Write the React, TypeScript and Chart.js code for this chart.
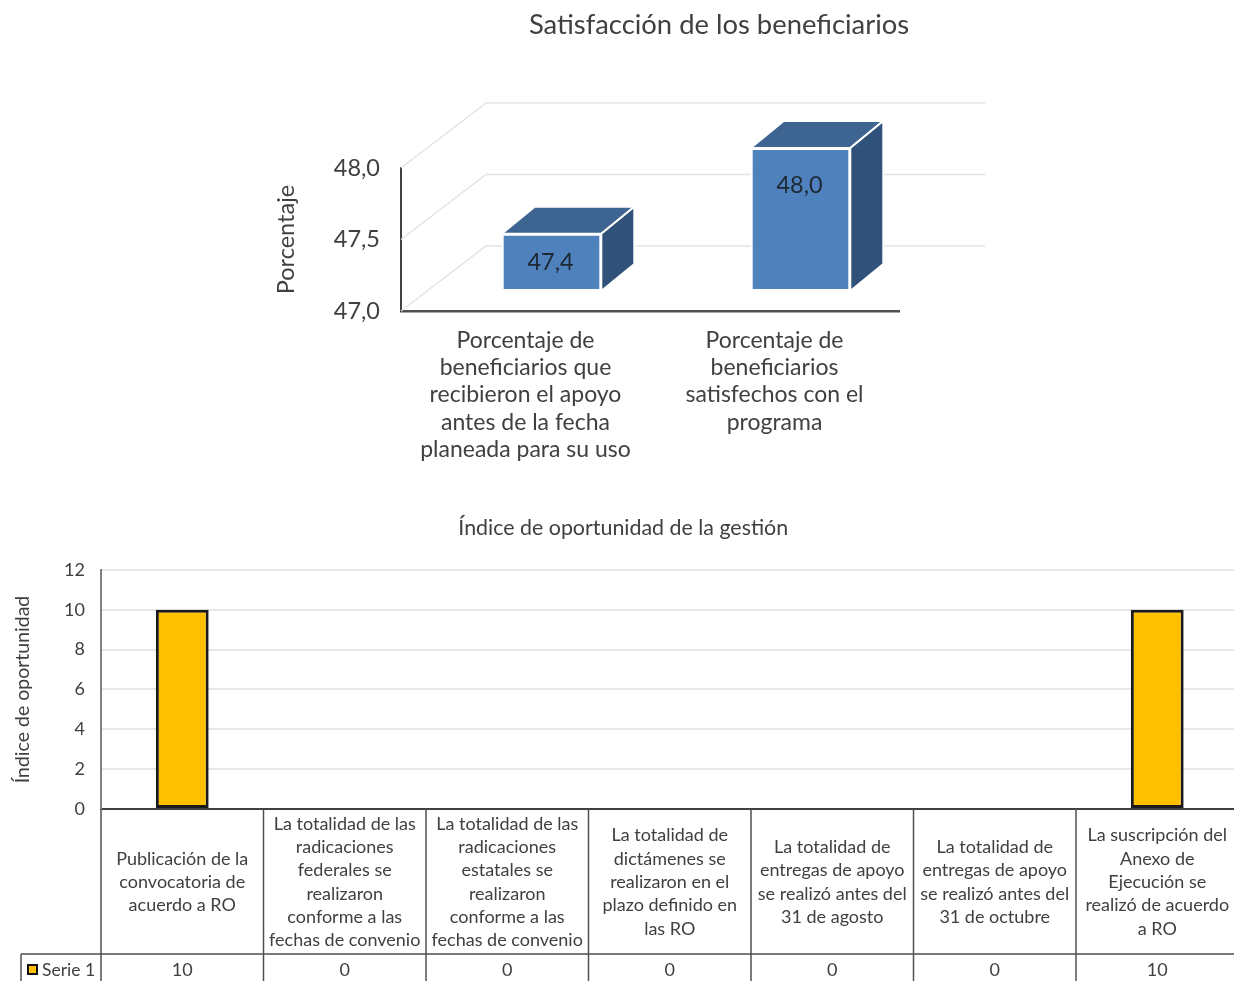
import React, { useEffect, useRef } from "react";
import { Chart, registerables } from "chart.js";

Chart.register(...registerables);

const FONT = "Lato";
const TEXT = "#404040";

const satisfactionLabels = [
  ["Porcentaje de", "beneficiarios que", "recibieron el apoyo", "antes de la fecha", "planeada para su uso"],
  ["Porcentaje de", "beneficiarios", "satisfechos con el", "programa"],
];
const satisfactionValues = [47.4, 48.0];
const satisfactionTicks = { min: 47, max: 48, step: 0.5 };

const opportunityLabels = [
  ["Publicación de la", "convocatoria de", "acuerdo a RO"],
  ["La totalidad de las", "radicaciones", "federales se", "realizaron", "conforme a las", "fechas de convenio"],
  ["La totalidad de las", "radicaciones", "estatales se", "realizaron", "conforme a las", "fechas de convenio"],
  ["La totalidad de", "dictámenes se", "realizaron en el", "plazo definido en", "las RO"],
  ["La totalidad de", "entregas de apoyo", "se realizó antes del", "31 de agosto"],
  ["La totalidad de", "entregas de apoyo", "se realizó antes del", "31 de octubre"],
  ["La suscripción del", "Anexo de", "Ejecución se", "realizó de acuerdo", "a RO"],
];
const serie1Values = [10, 0, 0, 0, 0, 0, 10];
const serieName = "Serie 1";

const comma = (v: number) => v.toFixed(1).replace(".", ",");

// 3D look: back wall, shifted bars with top and side faces
const WALL = { dx: 85, dy: 65 };
const BAR_SHIFT = { dx: 26, dy: 20 };
const DEPTH = { dx: 33, dy: 27 };

const fake3d = {
  id: "fake3d",
  beforeDatasetsDraw(chart: any) {
    const { ctx, chartArea: a, scales } = chart;
    ctx.save();
    ctx.strokeStyle = "#e3e3e3";
    ctx.lineWidth = 1.5;
    scales.y.ticks.forEach((t: any) => {
      const y = scales.y.getPixelForValue(t.value);
      ctx.beginPath();
      ctx.moveTo(a.left, y);
      ctx.lineTo(a.left + WALL.dx, y - WALL.dy);
      ctx.lineTo(a.right + WALL.dx + 1, y - WALL.dy);
      ctx.stroke();
    });
    ctx.restore();
  },
  beforeDatasetDraw(chart: any, args: any) {
    const { ctx } = chart;
    ctx.save();
    ctx.translate(BAR_SHIFT.dx, -BAR_SHIFT.dy);
    args.meta.data.forEach((el: any) => {
      const x0 = el.x - el.width / 2;
      const x1 = el.x + el.width / 2;
      ctx.strokeStyle = "#ffffff";
      ctx.lineWidth = 2;
      ctx.fillStyle = "#3e6591";
      ctx.beginPath();
      ctx.moveTo(x0, el.y);
      ctx.lineTo(x0 + DEPTH.dx, el.y - DEPTH.dy);
      ctx.lineTo(x1 + DEPTH.dx, el.y - DEPTH.dy);
      ctx.lineTo(x1, el.y);
      ctx.closePath();
      ctx.fill();
      ctx.stroke();
      ctx.fillStyle = "#305179";
      ctx.beginPath();
      ctx.moveTo(x1, el.y);
      ctx.lineTo(x1 + DEPTH.dx, el.y - DEPTH.dy);
      ctx.lineTo(x1 + DEPTH.dx, el.base - DEPTH.dy);
      ctx.lineTo(x1, el.base);
      ctx.closePath();
      ctx.fill();
      ctx.stroke();
    });
  },
  afterDatasetDraw(chart: any, args: any) {
    const { ctx } = chart;
    ctx.font = `23.5px ${FONT}`;
    ctx.fillStyle = "#1d2733";
    ctx.textAlign = "center";
    ctx.textBaseline = "middle";
    args.meta.data.forEach((el: any, i: number) => {
      const h = el.base - el.y;
      ctx.fillText(comma(satisfactionValues[i]), el.x - 1, el.y + Math.min(h / 2, 37));
    });
    ctx.restore();
  },
};

// Data table under the axis: column rules, legend key and values
const dataTable = {
  id: "dataTable",
  afterDraw(chart: any) {
    const { ctx, scales, chartArea: a, height } = chart;
    const x = scales.x;
    const half = x.width / x.ticks.length / 2;
    const rowY = a.bottom + 145;
    const left = 21;
    ctx.save();
    ctx.strokeStyle = "#505050";
    ctx.lineWidth = 1.5;
    x.ticks.forEach((_: any, i: number) => {
      const px = x.getPixelForTick(i) + half;
      ctx.beginPath();
      ctx.moveTo(px, a.bottom);
      ctx.lineTo(px, height);
      ctx.stroke();
    });
    ctx.beginPath();
    ctx.moveTo(a.left, a.bottom);
    ctx.lineTo(a.left, height);
    ctx.moveTo(left, rowY);
    ctx.lineTo(a.right, rowY);
    ctx.moveTo(left, rowY);
    ctx.lineTo(left, height);
    ctx.stroke();
    ctx.fillStyle = TEXT;
    ctx.font = `18px ${FONT}`;
    ctx.textBaseline = "middle";
    ctx.textAlign = "center";
    serie1Values.forEach((v, i) => ctx.fillText(String(v), x.getPixelForTick(i), rowY + 16));
    ctx.textAlign = "left";
    ctx.font = `17.5px ${FONT}`;
    ctx.fillText(serieName, left + 21, rowY + 16);
    ctx.fillStyle = chart.data.datasets[0].backgroundColor;
    ctx.strokeStyle = "#111111";
    ctx.lineWidth = 2;
    ctx.fillRect(left + 7, rowY + 11, 9, 9);
    ctx.strokeRect(left + 7, rowY + 11, 9, 9);
    ctx.restore();
  },
};

export default function App() {
  const top = useRef<HTMLCanvasElement>(null);
  const bottom = useRef<HTMLCanvasElement>(null);

  useEffect(() => {
    const c1 = new Chart(top.current!, {
      type: "bar",
      data: {
        labels: satisfactionLabels as any,
        datasets: [
          {
            data: satisfactionValues,
            base: satisfactionTicks.min,
            backgroundColor: "#4f81bd",
            borderColor: "#ffffff",
            borderWidth: 2,
            borderSkipped: false,
            barPercentage: 0.4,
            categoryPercentage: 1,
            clip: false as any,
          },
        ],
      },
      options: {
        responsive: false,
        animation: false,
        layout: { padding: 0 },
        plugins: {
          legend: { display: false },
          tooltip: { enabled: false },
          title: {
            display: true,
            text: "Satisfacción de los beneficiarios",
            color: TEXT,
            font: { family: FONT, size: 27.4, weight: "normal" },
            padding: { top: 9, bottom: 126.1 },
          },
        },
        scales: {
          x: {
            grid: { display: false },
            border: { color: "#505050", width: 2.5 },
            ticks: {
              color: TEXT,
              font: { family: FONT, size: 23, lineHeight: 1.183 },
              padding: 8,
              autoSkip: false,
              maxRotation: 0,
              minRotation: 0,
            },
            afterFit: (s: any) => { s.height = 169; },
          },
          y: {
            min: satisfactionTicks.min,
            max: satisfactionTicks.max,
            grid: { display: false, drawTicks: false },
            border: { color: "#404040", width: 2 },
            ticks: {
              stepSize: satisfactionTicks.step,
              color: TEXT,
              font: { family: FONT, size: 23.5 },
              padding: 21,
              callback: (v: any) => comma(Number(v)),
            },
            title: {
              display: true,
              text: "Porcentaje",
              color: TEXT,
              font: { family: FONT, size: 23.5 },
              padding: { top: 68, bottom: 0 },
            },
            afterFit: (s: any) => { s.width = 197; },
          },
          rightGutter: {
            position: "right",
            grid: { display: false },
            border: { display: false },
            ticks: { display: false },
            afterFit: (s: any) => { s.width = 335; },
          },
        },
      },
      plugins: [fake3d],
    } as any);

    const c2 = new Chart(bottom.current!, {
      type: "bar",
      data: {
        labels: opportunityLabels as any,
        datasets: [
          {
            label: serieName,
            data: serie1Values,
            backgroundColor: "#ffc000",
            borderColor: "#1a1a1a",
            borderWidth: (c: any) => (c.raw > 0 ? 3 : 0),
            borderSkipped: false,
            barPercentage: 0.325,
            categoryPercentage: 1,
          },
        ],
      },
      options: {
        responsive: false,
        animation: false,
        layout: { padding: { left: 8, right: 7.5, top: 0, bottom: 0 } },
        plugins: {
          legend: { display: false },
          tooltip: { enabled: false },
          title: {
            display: true,
            text: "Índice de oportunidad de la gestión",
            color: TEXT,
            font: { family: FONT, size: 21.4, weight: "normal" },
            padding: { top: 15, bottom: 29.3 },
          },
        },
        scales: {
          x: {
            grid: { display: false },
            border: { color: "#404040", width: 2 },
            ticks: {
              color: TEXT,
              font: { family: FONT, size: 18, lineHeight: 1.295 },
              padding: 7,
              autoSkip: false,
              maxRotation: 0,
              minRotation: 0,
              crossAlign: "center",
            },
            afterFit: (s: any) => { s.height = 181; },
          },
          y: {
            min: 0,
            max: 12,
            grid: { color: "#e8e8e8", lineWidth: 2, drawTicks: false },
            border: { color: "#808080", width: 2 },
            ticks: {
              stepSize: 2,
              color: TEXT,
              font: { family: FONT, size: 18 },
              padding: 16,
            },
            title: {
              display: true,
              text: "Índice de oportunidad",
              color: TEXT,
              font: { family: FONT, size: 19.5 },
              padding: { top: 3, bottom: 0 },
            },
            afterFit: (s: any) => { s.width = 93; },
          },
        },
      },
      plugins: [dataTable],
    } as any);

    return () => {
      c1.destroy();
      c2.destroy();
    };
  }, []);

  return (
    <div style={{ position: "absolute", left: 0, top: 0, width: 1234, height: 981, overflow: "hidden", background: "#fff" }}>
      <canvas ref={top} width={1030} height={480} style={{ position: "absolute", left: 204, top: 0 }} />
      <canvas ref={bottom} width={1246} height={490} style={{ position: "absolute", left: 0, top: 500 }} />
    </div>
  );
}
